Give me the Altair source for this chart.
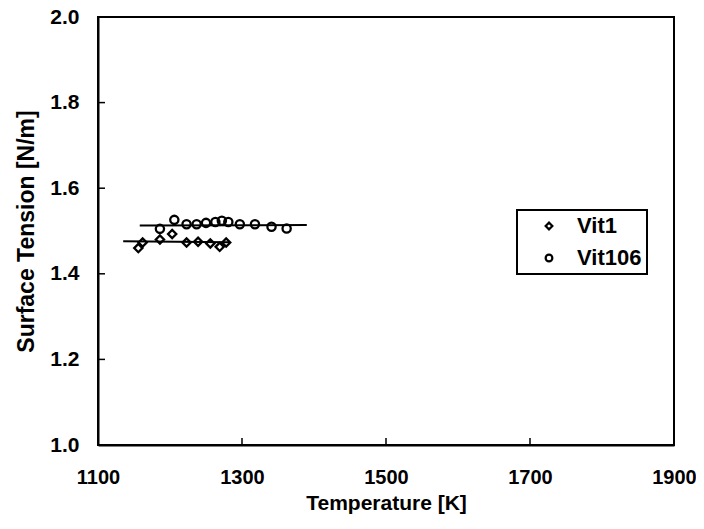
import altair as alt
import pandas as pd

# Data
vit1_T = [1156, 1162, 1186, 1203, 1223, 1239, 1256, 1269, 1278]
vit1_v = [1.460, 1.473, 1.480, 1.493, 1.473, 1.475, 1.471, 1.463, 1.473]
vit106_T = [1186, 1206, 1223, 1237, 1250, 1263, 1272, 1281, 1297, 1318, 1341, 1362]
vit106_v = [1.505, 1.526, 1.516, 1.516, 1.519, 1.521, 1.524, 1.521, 1.516, 1.516, 1.510, 1.506]
fit_series = ["Vit1", "Vit1", "Vit106", "Vit106"]
fit_T = [1135, 1283, 1158, 1390]
fit_v = [1.476, 1.474, 1.513, 1.514]
x_ticks = [1100, 1300, 1500, 1700, 1900]
y_ticks = [1.0, 1.2, 1.4, 1.6, 1.8, 2.0]
series = ["Vit1", "Vit106"]

pts = pd.DataFrame({
    "T": vit1_T + vit106_T,
    "v": vit1_v + vit106_v,
    "s": ["Vit1"] * len(vit1_T) + ["Vit106"] * len(vit106_T),
})
fits = pd.DataFrame({"T": fit_T, "v": fit_v, "s": fit_series})
xt = pd.DataFrame({"t": x_ticks[1:-1]})
yt = pd.DataFrame({"t": y_ticks[1:-1]})

FONT = "Liberation Sans"
xs = alt.Scale(domain=[1100, 1900], nice=False, zero=False)
ys = alt.Scale(domain=[1.0, 2.0], nice=False, zero=False)

xaxis = alt.Axis(values=x_ticks, format="d", ticks=False, tickSize=0, grid=False, labelFlush=False,
                 title="Temperature [K]", labelPadding=22, titlePadding=5, titleFontSize=21,
                 labelFontSize=20)
yaxis = alt.Axis(values=y_ticks, format=".1f", ticks=False, tickSize=0, grid=False, labelFlush=False,
                 title="Surface Tension [N/m]", labelPadding=19, titlePadding=11, titleFontSize=23,
                 labelFontSize=21)

lines = alt.Chart(fits).mark_line(color="black", strokeWidth=2).encode(
    x=alt.X("T:Q", scale=xs, axis=xaxis),
    y=alt.Y("v:Q", scale=ys, axis=yaxis),
    detail="s:N",
)

points = alt.Chart(pts).mark_point(filled=False, color="black", strokeWidth=2.3, size=68, opacity=1).encode(
    x=alt.X("T:Q", scale=xs),
    y=alt.Y("v:Q", scale=ys),
    shape=alt.Shape("s:N", scale=alt.Scale(domain=series, range=["diamond", "circle"]),
                    legend=alt.Legend(title=None, orient="none", legendX=419, legendY=193,
                                      strokeColor="black", padding=5,
                                      fillColor="white", labelExpr="datum.label + '  '",
                                      labelFont=FONT, labelFontSize=22, labelFontWeight="bold",
                                      labelColor="black", symbolSize=45, symbolStrokeWidth=2.2,
                                      symbolStrokeColor="black", symbolFillColor="transparent",
                                      symbolOffset=16, rowPadding=10, labelOffset=17, labelLimit=300)),
)

ytick = alt.Chart(yt).mark_rule(color="black", strokeWidth=1.5).encode(
    y=alt.Y("t:Q", scale=ys), x=alt.value(0), x2=alt.value(7))
xtick = alt.Chart(xt).mark_rule(color="black", strokeWidth=1.5).encode(
    x=alt.X("t:Q", scale=xs), y=alt.value(428), y2=alt.value(421))

chart = alt.layer(lines, points, ytick, xtick).properties(
    width=576, height=428,
    autosize=alt.AutoSizeParams(type="none"),
    padding={"left": 90, "top": 9, "right": 22, "bottom": 76},
).configure_view(stroke="black", strokeWidth=2).configure_axis(
    domainColor="black", domainWidth=2,
    labelFont=FONT, labelFontWeight="bold", labelColor="black",
    titleFont=FONT, titleFontWeight="bold", titleColor="black",
).configure_legend(strokeWidth=2, cornerRadius=0)

chart.save("out.html", embed_options={"renderer": "svg", "actions": False})
